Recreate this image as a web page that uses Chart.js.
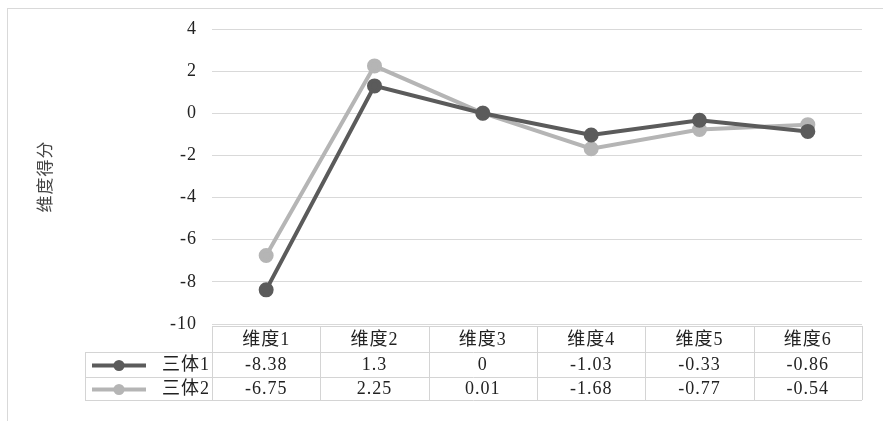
<!DOCTYPE html>
<html>
<head>
<meta charset="utf-8">
<script src="https://cdn.jsdelivr.net/npm/chart.js@4/dist/chart.umd.min.js"></script>
<style>
  html, body { margin: 0; padding: 0; background: #fff; }
  #wrap { width: 883px; height: 421px; position: relative; }
</style>
</head>
<body>
<div id="wrap"><canvas id="chart"></canvas></div>
<script>
// ── data ──
const categories = ['维度1', '维度2', '维度3', '维度4', '维度5', '维度6'];
const seriesNames = ['三体1', '三体2'];
const series1 = [-8.38, 1.3, 0, -1.03, -0.33, -0.86];
const series2 = [-6.75, 2.25, 0.01, -1.68, -0.77, -0.54];
const series1Labels = ['-8.38', '1.3', '0', '-1.03', '-0.33', '-0.86'];
const series2Labels = ['-6.75', '2.25', '0.01', '-1.68', '-0.77', '-0.54'];
const yTicks = [4, 2, 0, -2, -4, -6, -8, -10];

const colors = ['#5b5b5b', '#b5b5b5'];
const FONT = '"Liberation Serif", "Noto Sans CJK SC", serif';

// frame + data table under the plot, aligned to the x scale
const tablePlugin = {
  id: 'dataTable',
  beforeDraw(chart) {
    const c = chart.ctx;
    c.save();
    c.strokeStyle = '#d9d9d9';
    c.lineWidth = 1;
    c.strokeRect(7.5, 8.5, 880, 420);
    c.restore();
    // a little wider spacing for the labels, like the original
    c.letterSpacing = '1px';
  },
  afterDraw(chart) {
    const c = chart.ctx;
    const x = chart.scales.x;
    const area = chart.chartArea;
    const n = categories.length;
    const colW = (area.right - area.left) / n;
    const rows = [area.bottom + 2, 352, 377, 400];
    const leftX = 85;

    c.save();
    c.strokeStyle = '#d4d4d4';
    c.lineWidth = 1;
    // horizontal lines
    c.beginPath();
    c.moveTo(area.left, rows[0] + 0.5); c.lineTo(area.right, rows[0] + 0.5);
    for (let r = 1; r < rows.length; r++) {
      c.moveTo(leftX, rows[r] + 0.5); c.lineTo(area.right, rows[r] + 0.5);
    }
    // vertical lines
    for (let i = 0; i <= n; i++) {
      const px = Math.round(area.left + i * colW) + 0.5;
      c.moveTo(px, rows[0]); c.lineTo(px, rows[3]);
    }
    c.moveTo(leftX + 0.5, rows[1]); c.lineTo(leftX + 0.5, rows[3]);
    c.stroke();

    c.letterSpacing = '1px';
    c.fillStyle = '#222';
    c.textAlign = 'center';
    c.textBaseline = 'middle';
    c.font = '18px ' + FONT;
    categories.forEach((cat, i) => {
      c.fillText(cat, x.getPixelForValue(i), (rows[0] + rows[1]) / 2 + 1);
    });
    const labels = [series1Labels, series2Labels];
    labels.forEach((arr, r) => {
      const cy = (rows[r + 1] + rows[r + 2]) / 2 + 1;
      arr.forEach((v, i) => c.fillText(v, x.getPixelForValue(i), cy));
      // legend key
      c.strokeStyle = colors[r];
      c.lineWidth = 4;
      c.beginPath(); c.moveTo(92, cy); c.lineTo(146, cy); c.stroke();
      c.fillStyle = colors[r];
      c.beginPath(); c.arc(119, cy, 5.5, 0, Math.PI * 2); c.fill();
      c.fillStyle = '#222';
      c.textAlign = 'right';
      c.fillText(seriesNames[r], area.left - 2, cy);
      c.textAlign = 'center';
    });
    c.restore();
  }
};

new Chart(document.getElementById('chart'), {
  type: 'line',
  data: {
    labels: categories,
    datasets: [
      { label: seriesNames[0], data: series1 },
      { label: seriesNames[1], data: series2 }
    ].map((d, i) => Object.assign(d, {
      borderColor: colors[i],
      backgroundColor: colors[i],
      borderWidth: 4,
      pointRadius: 5.5,
      pointHoverRadius: 5.5,
      tension: 0
    }))
  },
  options: {
    responsive: true,
    maintainAspectRatio: false,
    animation: false,
    layout: { padding: { left: 36, right: 21, top: 29, bottom: 97 } },
    plugins: { legend: { display: false }, tooltip: { enabled: false } },
    scales: {
      x: { type: 'category', offset: true, display: false },
      y: {
        min: -10, max: 4,
        afterFit: s => { s.width = 176; },
        afterBuildTicks: s => { s.ticks = yTicks.map(v => ({ value: v })); },
        border: { display: false },
        grid: { color: '#d9d9d9', drawTicks: false, lineWidth: 1 },
        ticks: { padding: 15, color: '#222', font: { family: FONT, size: 18 } },
        title: {
          display: true, text: '维度得分', color: '#444',
          font: { family: FONT, size: 17 }, padding: { top: 0, bottom: 0 }
        }
      }
    }
  },
  plugins: [tablePlugin]
});
</script>
</body>
</html>
